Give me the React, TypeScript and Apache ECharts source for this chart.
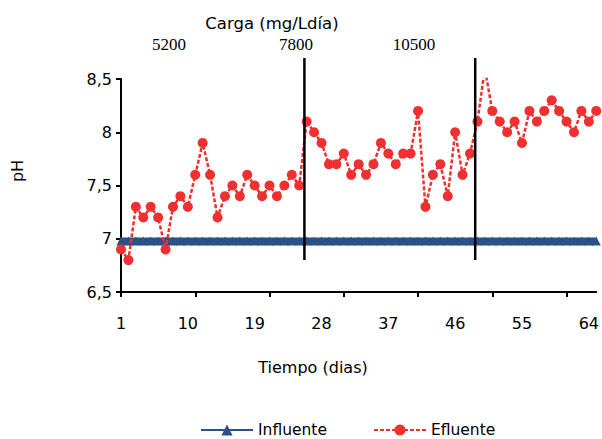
import React, { useEffect, useRef } from 'react';
import * as echarts from 'echarts';

const days: string[] = [
  '1','2','3','4','5','6','7','8','9','10','11','12','13','14','15','16','17','18','19','20',
  '21','22','23','24','25','26','27','28','29','30','31','32','33','34','35','36','37','38','39','40',
  '41','42','43','44','45','46','47','48','49','50','51','52','53','54','55','56','57','58','59','60',
  '61','62','63','64','65'
];

const influente: number[] = [
  6.98,6.98,6.98,6.98,6.98,6.98,6.98,6.98,6.98,6.98,
  6.98,6.98,6.98,6.98,6.98,6.98,6.98,6.98,6.98,6.98,
  6.98,6.98,6.98,6.98,6.98,6.98,6.98,6.98,6.98,6.98,
  6.98,6.98,6.98,6.98,6.98,6.98,6.98,6.98,6.98,6.98,
  6.98,6.98,6.98,6.98,6.98,6.98,6.98,6.98,6.98,6.98,
  6.98,6.98,6.98,6.98,6.98,6.98,6.98,6.98,6.98,6.98,
  6.98,6.98,6.98,6.98,6.98
];

const efluente: number[] = [
  6.9, 6.8, 7.3, 7.2, 7.3, 7.2, 6.9, 7.3, 7.4, 7.3,
  7.6, 7.9, 7.6, 7.2, 7.4, 7.5, 7.4, 7.6, 7.5, 7.4,
  7.5, 7.4, 7.5, 7.6, 7.5, 8.1, 8.0, 7.9, 7.7, 7.7,
  7.8, 7.6, 7.7, 7.6, 7.7, 7.9, 7.8, 7.7, 7.8, 7.8,
  8.2, 7.3, 7.6, 7.7, 7.4, 8.0, 7.6, 7.8, 8.1, 8.6,
  8.2, 8.1, 8.0, 8.1, 7.9, 8.2, 8.1, 8.2, 8.3, 8.2,
  8.1, 8.0, 8.2, 8.1, 8.2
];

// Days (1-based, fractional) at which the organic load changed
const loadChangeDays: number[] = [25.7, 48.7];
const loadLabels: string[] = ['5200', '7800', '10500'];
const loadLabelX: number[] = [169, 296, 414];

const SANS = '"DejaVu Sans", sans-serif';

export default function App() {
  const ref = useRef<HTMLDivElement>(null);
  useEffect(() => {
    if (!ref.current) return;
    const chart = echarts.init(ref.current, null, { renderer: 'svg' });
    const option: any = {
      animation: false,
      backgroundColor: '#fff',
      grid: { left: 121, right: 3, top: 79, bottom: 147, containLabel: false },
      xAxis: {
        type: 'category',
        data: days,
        boundaryGap: false,
        axisLine: { lineStyle: { color: '#000', width: 2 } },
        axisTick: { show: true, interval: 9, length: 5, lineStyle: { color: '#000', width: 2 } },
        axisLabel: { interval: 8, margin: 23, color: '#000', fontSize: 16, fontFamily: SANS },
        splitLine: { show: false },
      },
      yAxis: {
        type: 'value',
        min: 6.5,
        max: 8.5,
        interval: 0.5,
        axisLine: { show: true, lineStyle: { color: '#000', width: 2 } },
        axisTick: { show: true, length: 5, lineStyle: { color: '#000', width: 2 } },
        axisLabel: {
          margin: 9,
          color: '#000',
          fontSize: 16,
          fontFamily: SANS,
          formatter: (v: number) => String(v).replace('.', ','),
        },
        splitLine: { show: false },
      },
      legend: {
        left: 200,
        top: 422,
        padding: 0,
        itemWidth: 52,
        itemHeight: 14,
        itemGap: 46,
        textStyle: { color: '#000', fontSize: 15.5, fontFamily: SANS },
        data: ['Influente', 'Efluente'],
      },
      series: [
        {
          name: 'Influente',
          type: 'line',
          data: influente,
          symbol: 'triangle',
          symbolSize: 9,
          showAllSymbol: true,
          itemStyle: { color: '#2a5289' },
          lineStyle: { color: '#2a5289', width: 7 },
          z: 2,
        },
        {
          name: 'Efluente',
          type: 'line',
          data: efluente,
          symbol: 'circle',
          symbolSize: 10,
          showAllSymbol: true,
          itemStyle: { color: '#ee3030' },
          lineStyle: { color: '#ee3030', width: 2.5, type: [4, 2] },
          z: 3,
        },
      ],
    };
    chart.setOption(option);

    const x0 = chart.convertToPixel({ xAxisIndex: 0 }, 0) as number;
    const x1 = chart.convertToPixel({ xAxisIndex: 0 }, 1) as number;
    const step = x1 - x0;

    const graphics: any[] = [
      {
        type: 'text', x: 272, y: 23, z: 10,
        style: { text: 'Carga (mg/Ldía)', font: '16.5px "DejaVu Sans"', fill: '#000', align: 'center', verticalAlign: 'middle' },
      },
      {
        type: 'text', x: 313, y: 367, z: 10,
        style: { text: 'Tiempo (dias)', font: '16px "DejaVu Sans"', fill: '#000', align: 'center', verticalAlign: 'middle' },
      },
      {
        type: 'text', x: 17, y: 171, rotation: Math.PI / 2, z: 10,
        style: { text: 'pH', font: '16px "DejaVu Sans"', fill: '#000', align: 'center', verticalAlign: 'middle' },
      },
      ...loadLabels.map((t, i) => ({
        type: 'text', x: loadLabelX[i], y: 44, z: 10,
        style: { text: t, font: '17px "Liberation Serif"', fill: '#000', align: 'center', verticalAlign: 'middle' },
      })),
      ...loadChangeDays.map((d) => {
        const x = x0 + (d - 1) * step;
        return {
          type: 'line', z: 10,
          shape: { x1: x, y1: 58, x2: x, y2: 260 },
          style: { stroke: '#000', lineWidth: 2.5 },
        };
      }),
    ];
    chart.setOption({ graphic: graphics });

    return () => chart.dispose();
  }, []);
  return <div ref={ref} style={{ position: 'fixed', left: 0, top: 0, width: 602, height: 439 }} />;
}
